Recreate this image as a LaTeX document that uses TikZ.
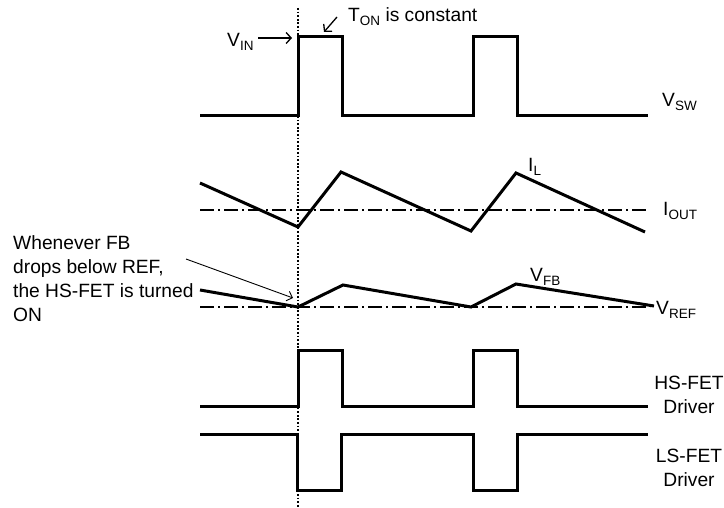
\documentclass[tikz,border=0pt]{standalone}
\usepackage{fontspec}
\setmainfont{Liberation Sans}
\usetikzlibrary{arrows.meta}
\newcommand\lsub[1]{\raisebox{-0.32ex}{\fontsize{13.5}{14}\selectfont #1}}
\begin{document}
\begin{tikzpicture}[x=1pt,y=-1pt,
  trace/.style={line width=3pt,line join=miter,line cap=butt},
  refline/.style={line width=1.4pt,dash pattern=on 14pt off 4pt on 2pt off 4pt},
  guide/.style={line width=1.3pt,dash pattern=on 1.8pt off 1.8pt},
  pointer/.style={line width=1.3pt,-{Straight Barb[length=5pt,width=11pt]}},
  thinpointer/.style={line width=0.9pt,-{Straight Barb[length=5pt,width=10pt]}},
  lbl/.style={inner sep=0pt,font=\fontsize{19.2}{24}\selectfont}]
\useasboundingbox (0,0) rectangle (724,508);
% guide line
\coordinate (gtop) at (298,8);
\coordinate (gbot) at (298,508);
\draw[guide] (gtop) -- (gbot);
% V_SW
\draw[trace] (200,116) -- (298,116) -- (298,37) -- (342,37) -- (342,116) -- (473,116) -- (473,37) -- (517,37) -- (517,116) -- (648,116);
\node[lbl,anchor=base west] (vsw) at (662,107) {V\lsub{SW}};
\node[lbl,anchor=base west] (vin) at (227,47) {V\lsub{IN}};
\coordinate (vinstart) at (258,38);
\coordinate (vintip) at (292,38);
\draw[pointer] (vinstart) -- (vintip);
\node[lbl,anchor=base west] (ton) at (348,22) {T\lsub{ON} is constant};
\coordinate (tontail) at (337,17);
\coordinate (tontip) at (324,32);
\draw[pointer] (tontail) -- (tontip);
% I_L
\draw[refline] (200,210) -- (648,210);
\draw[trace] (200,183) -- (298,227) -- (341,172) -- (471,231) -- (516,173) -- (645,232);
\node[lbl,anchor=base west] (il) at (528,172) {I\lsub{L}};
\node[lbl,anchor=base west] (iout) at (663,216) {I\lsub{OUT}};
% V_FB
\draw[refline] (200,307) -- (650,307);
\draw[trace] (200,290) -- (298,307) -- (343,285) -- (471,307) -- (516,284) -- (654,306);
\node[lbl,anchor=base west] (vfb) at (530,282) {V\lsub{FB}};
\node[lbl,anchor=base west] (vref) at (656,315) {V\lsub{REF}};
% annotation
\node[lbl,anchor=north west,align=left] (note) at (13,235) {Whenever FB\\drops below REF,\\the HS-FET is turned\\ON};
\coordinate (notetail) at (186,259);
\coordinate (notetip) at (293,298);
\draw[thinpointer] (notetail) -- (notetip);
% HS driver
\draw[trace] (200,406) -- (298,406) -- (298,350) -- (342,350) -- (342,406) -- (473,406) -- (473,350) -- (517,350) -- (517,406) -- (648,406);
\node[lbl,anchor=north,align=center] (hs) at (689,376) {HS-FET\\Driver};
% LS driver
\draw[trace] (200,434) -- (297,434) -- (297,490) -- (341,490) -- (341,434) -- (473,434) -- (473,490) -- (517,490) -- (517,434) -- (648,434);
\node[lbl,anchor=north,align=center] (ls) at (689,449) {LS-FET\\Driver};
\end{tikzpicture}
\end{document}
